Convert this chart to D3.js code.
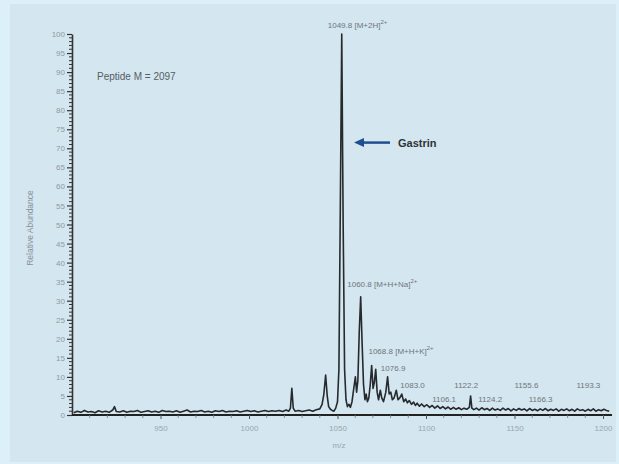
<!DOCTYPE html>
<html>
<head>
<meta charset="utf-8">
<script src="https://cdn.jsdelivr.net/npm/d3@7"></script>
<style>
  body { margin: 0; background: #dcf0f9; }
  text { font-family: "Liberation Sans", Arial, sans-serif; }
</style>
</head>
<body>
<div id="chart"></div>
<script>
// spectrum points: [m/z, relative abundance]
const spectrum = [
  [901,0.6],[903,1.0],[905,0.7],[907,1.2],[909,0.8],[911,0.9],[913,0.6],[915,1.1],[917,0.8],[919,1.0],
  [921,0.7],[923,1.3],[924,2.2],[925,0.9],[927,0.8],[929,1.1],[931,0.7],[933,1.0],[935,0.9],[937,1.2],
  [939,0.7],[941,0.9],[943,1.1],[945,0.8],[947,1.0],[949,0.7],[951,1.2],[953,0.9],[955,1.0],[957,0.8],
  [959,1.1],[961,0.7],[963,1.0],[965,1.3],[967,0.8],[969,1.0],[971,0.9],[973,1.2],[975,0.8],[977,1.0],
  [979,0.7],[981,1.1],[983,0.9],[985,1.2],[987,0.8],[989,1.0],[991,0.9],[993,1.1],[995,0.8],[997,1.0],
  [999,1.2],[1001,0.9],[1003,1.1],[1005,0.8],[1007,1.0],[1009,1.2],[1011,0.9],[1013,1.1],[1015,1.0],[1017,1.2],
  [1019,0.9],[1021,1.3],[1022.5,1.0],[1023.4,1.8],[1024.2,7.0],[1025,1.8],[1026,1.0],[1028,1.2],[1030,0.9],
  [1032,1.1],[1034,1.3],[1036,1.0],[1038,1.4],[1040,1.6],[1041.3,2.8],[1042.3,5.5],[1043.3,10.5],[1044.2,5.0],
  [1045,2.2],[1046,1.5],[1047,1.2],[1048,1.0],[1049,1.8],[1050,3.5],[1050.8,12],[1051.6,55],[1052.4,100],
  [1053.2,50],[1054,12],[1054.8,4],[1055.6,2.2],[1056.5,2.8],[1057.3,2.0],[1058.2,3.5],[1059.2,7],[1060.1,10],
  [1060.8,6],[1061.5,9],[1062.3,22],[1063.1,31],[1063.9,19],[1064.7,8],[1065.5,4],[1066.2,5.5],[1066.9,3.5],
  [1067.7,4.5],[1068.5,8],[1069.3,13],[1070.1,7],[1070.8,8.5],[1071.6,12],[1072.4,6],[1073.2,4],[1074.2,6.5],
  [1075,4.5],[1076,3.5],[1077.3,6],[1078.3,10],[1079.2,5.5],[1080.1,6],[1081,4],[1082,4.5],[1083.2,6.5],[1084.2,4],
  [1085.2,4.5],[1086.3,5.5],[1087.4,3.5],[1088.5,4.2],[1089.5,3.2],[1090.6,3.8],[1091.8,2.8],[1093,3.4],[1094,2.5],
  [1095,3.1],[1096.3,2.3],[1097.5,2.9],[1099,2.2],[1100.5,2.7],[1102,2.0],[1103.5,2.5],[1105,1.8],[1106.5,2.4],
  [1108,1.7],[1109.5,2.2],[1111,1.6],[1112.5,2.1],[1114,1.5],[1115.5,2.0],[1117,1.5],[1118.5,1.9],[1120,1.4],
  [1121.5,1.8],[1123,1.5],[1124.5,2.0],[1125.2,5.0],[1125.9,1.8],[1127,1.4],[1128.5,1.8],[1130,1.3],[1131.5,1.9],
  [1133,1.4],[1134.5,1.7],[1136,1.2],[1137.5,1.8],[1139,1.3],[1140.5,1.6],[1142,1.2],[1143.5,1.8],[1145,1.3],
  [1146.5,1.7],[1148,1.1],[1149.5,1.6],[1151,1.2],[1152.5,1.7],[1154,1.3],[1155.5,1.6],[1157,1.1],[1158.5,1.7],
  [1160,1.2],[1161.5,1.5],[1163,1.1],[1164.5,1.6],[1166,1.2],[1167.5,1.7],[1169,1.1],[1170.5,1.5],[1172,1.2],
  [1173.5,1.6],[1175,1.0],[1176.5,1.5],[1178,1.2],[1179.5,1.6],[1181,1.1],[1182.5,1.5],[1184,1.0],[1185.5,1.6],
  [1187,1.2],[1188.5,1.4],[1190,1.0],[1191.5,1.5],[1193,1.1],[1194.5,1.6],[1196,1.0],[1197.5,1.4],[1199,1.1],
  [1200.5,1.5],[1202,1.2],[1203.5,1.0]
];

// x tick labels and y tick labels
const xTicks = [950, 1000, 1050, 1100, 1150, 1200];
const yTicks = d3.range(0, 101, 5);

// peak annotations: label text, m/z position of text, abundance position of text
const annotations = [
  {text: "1049.8 [M+2H]", sup: "2+", mz: 1044.5, y: 101.5},
  {text: "1060.8 [M+H+Na]", sup: "2+", mz: 1055.5, y: 33.5},
  {text: "1068.8 [M+H+K]", sup: "2+", mz: 1067.5, y: 16},
  {text: "1076.9", sup: "", mz: 1074.5, y: 11.5},
  {text: "1083.0", sup: "", mz: 1085.5, y: 7},
  {text: "1106.1", sup: "", mz: 1103.5, y: 3.5},
  {text: "1122.2", sup: "", mz: 1116, y: 7},
  {text: "1124.2", sup: "", mz: 1129.5, y: 3.5},
  {text: "1155.6", sup: "", mz: 1150, y: 7},
  {text: "1166.3", sup: "", mz: 1158, y: 3.5},
  {text: "1193.3", sup: "", mz: 1185, y: 7}
];

const W = 619, H = 464;
const svg = d3.select("#chart").append("svg")
  .attr("width", W).attr("height", H);

// panel
svg.append("rect")
  .attr("x", 10).attr("y", 4)
  .attr("width", 606).attr("height", 458)
  .attr("fill", "#d4e6ef");

const x = d3.scaleLinear().domain([900, 1200]).range([72, 603]);
const y = d3.scaleLinear().domain([0, 100]).range([415, 34]);

// y axis
const yAxis = d3.axisLeft(y).tickValues(yTicks).tickSize(5).tickSizeOuter(0);
const gy = svg.append("g").attr("transform", "translate(72,0)").call(yAxis);
gy.select(".domain").attr("stroke", "#333").attr("stroke-width", 1.6);
gy.selectAll(".tick line").attr("stroke", "#333").attr("stroke-width", 1.2);
gy.selectAll(".tick text").attr("fill", "#8e9aa2").attr("font-size", 8).attr("x", -7);

// minor y ticks
svg.append("g").selectAll("line")
  .data(d3.range(0, 101, 1).filter(d => d % 5 !== 0))
  .join("line")
  .attr("x1", 69).attr("x2", 72)
  .attr("y1", d => y(d)).attr("y2", d => y(d))
  .attr("stroke", "#333").attr("stroke-width", 1);

// x axis
const xAxis = d3.axisBottom(x).tickValues(xTicks).tickFormat(d3.format("d"))
  .tickSize(4).tickSizeOuter(0);
const gx = svg.append("g").attr("transform", "translate(0,415)").call(xAxis);
gx.select(".domain").attr("stroke", "#222").attr("stroke-width", 1.8)
  .attr("d", "M72,0H612");
gx.selectAll(".tick line").attr("stroke", "#555");
gx.selectAll(".tick text").attr("fill", "#9aa6ae").attr("font-size", 8).attr("y", 10);

// minor x ticks
svg.append("g").selectAll("line")
  .data(d3.range(910, 1201, 10).filter(d => d % 50 !== 0))
  .join("line")
  .attr("x1", d => x(d)).attr("x2", d => x(d))
  .attr("y1", 415).attr("y2", 418)
  .attr("stroke", "#777").attr("stroke-width", 0.8);

// axis titles
svg.append("text")
  .attr("transform", "translate(33,228) rotate(-90)")
  .attr("text-anchor", "middle")
  .attr("font-size", 8.5).attr("fill", "#87939b")
  .text("Relative Abundance");

svg.append("text")
  .attr("x", 339).attr("y", 448)
  .attr("text-anchor", "middle")
  .attr("font-size", 8).attr("fill", "#9aa6ae")
  .text("m/z");

// spectrum line
const line = d3.line().x(d => x(d[0])).y(d => y(d[1]));
svg.append("path")
  .datum(spectrum)
  .attr("d", line)
  .attr("fill", "none")
  .attr("stroke", "#262a2d")
  .attr("stroke-width", 1.6)
  .attr("stroke-linejoin", "round");

// peak labels
annotations.forEach(a => {
  const t = svg.append("text")
    .attr("x", x(a.mz)).attr("y", y(a.y))
    .attr("font-size", 8).attr("fill", "#6d757b");
  t.append("tspan").text(a.text);
  if (a.sup) {
    t.append("tspan").attr("dy", -4).attr("font-size", 6).text(a.sup);
  }
});

// inset text
svg.append("text")
  .attr("x", 97).attr("y", 80)
  .attr("font-size", 10).attr("fill", "#555d63")
  .text("Peptide M = 2097");

// gastrin arrow
svg.append("line")
  .attr("x1", 390).attr("x2", 362)
  .attr("y1", y(71.5)).attr("y2", y(71.5))
  .attr("stroke", "#1f4f8f").attr("stroke-width", 2.5);
svg.append("path")
  .attr("d", `M354,${y(71.5)}L364,${y(71.5) - 4.5}L364,${y(71.5) + 4.5}Z`)
  .attr("fill", "#1f4f8f");
svg.append("text")
  .attr("x", 398).attr("y", y(71.5) + 4)
  .attr("font-size", 11).attr("font-weight", "bold").attr("fill", "#2e3338")
  .text("Gastrin");
</script>
</body>
</html>
